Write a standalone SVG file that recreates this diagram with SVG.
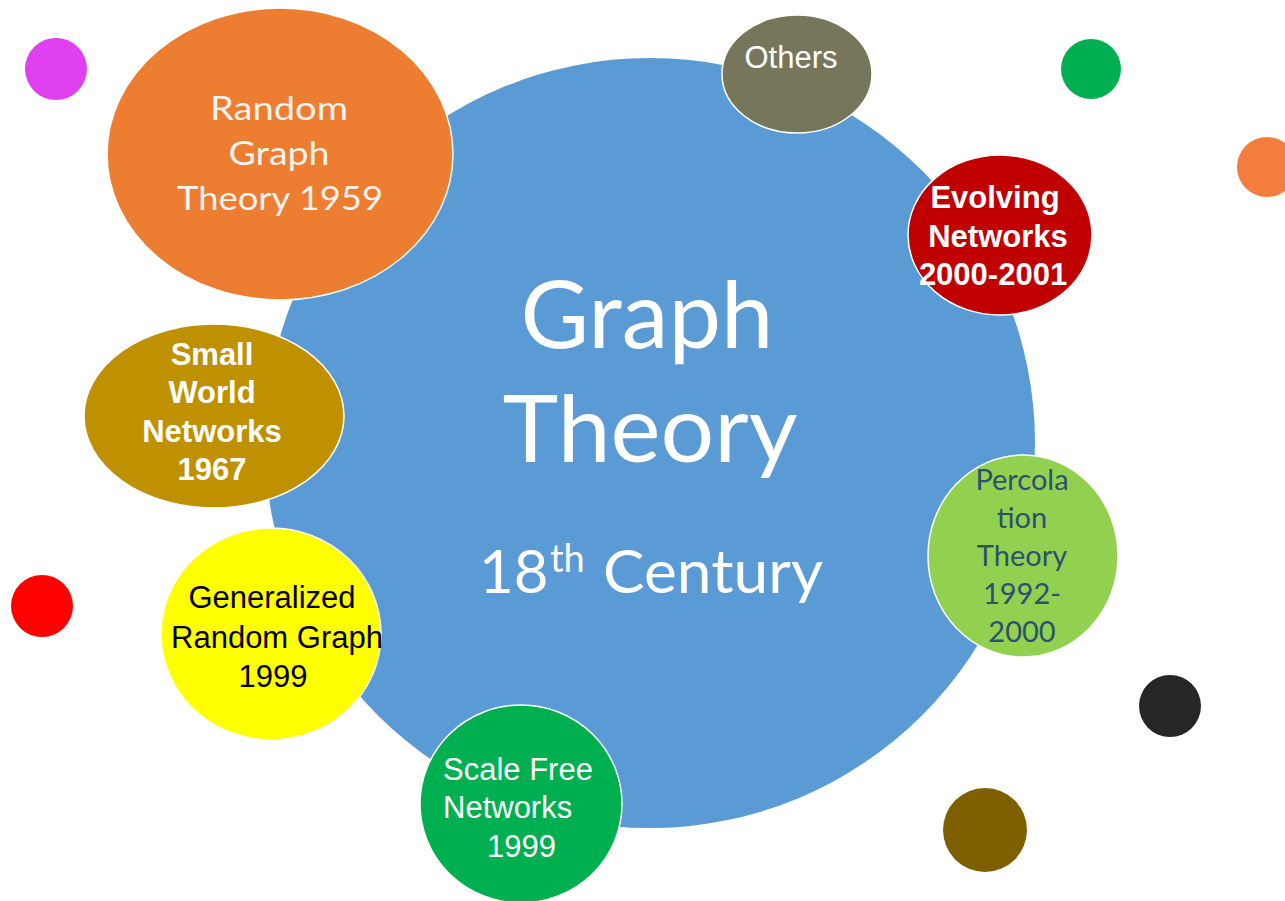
<svg xmlns="http://www.w3.org/2000/svg" width="1285" height="901" viewBox="0 0 1285 901">
<style>
.node{stroke:#ffffff;stroke-width:1.5}
.cal{font-family:Lato,"Open Sans","Liberation Sans",sans-serif;text-anchor:middle}
.ar{font-family:"Liberation Sans",Arial,sans-serif;text-anchor:middle}
.arb{font-family:"Liberation Sans",Arial,sans-serif;font-weight:bold;text-anchor:middle;fill:#ffffff;font-size:31px}
.dot{stroke:none}
</style>
<rect width="1285" height="901" fill="#ffffff"/>
<g id="connectors"></g>
<g id="graph-theory">
<circle cx="650" cy="443" r="385" fill="#5B9BD5"/>
<text class="cal" font-size="94" fill="#ffffff"><tspan x="647" y="348" textLength="253" lengthAdjust="spacingAndGlyphs">Graph</tspan><tspan x="650" y="462" textLength="295" lengthAdjust="spacingAndGlyphs">Theory</tspan></text>
<text font-family="Lato,'Open Sans','Liberation Sans',sans-serif" fill="#ffffff" font-size="60"><tspan x="479" y="593">18</tspan><tspan x="550" y="572" font-size="38">th</tspan><tspan x="603" y="593" textLength="220" lengthAdjust="spacingAndGlyphs">Century</tspan></text>
</g>
<g id="random-graph">
<ellipse class="node" cx="280" cy="154" rx="173" ry="146" fill="#ED7D31"/>
<text class="cal" font-size="33" fill="#FBF3EE"><tspan x="279" y="120" textLength="138" lengthAdjust="spacingAndGlyphs">Random</tspan><tspan x="279" y="165" textLength="101" lengthAdjust="spacingAndGlyphs">Graph</tspan><tspan x="280" y="210" textLength="206" lengthAdjust="spacingAndGlyphs">Theory 1959</tspan></text>
</g>
<g id="others">
<ellipse class="node" cx="797" cy="74" rx="75" ry="59" fill="#76765A"/>
<text class="ar" x="791" y="68" font-size="31" fill="#ffffff">Others</text>
</g>
<g id="evolving">
<ellipse class="node" cx="1000" cy="235" rx="92" ry="80" fill="#C00000"/>
<text class="arb"><tspan x="995" y="208">Evolving</tspan><tspan x="998" y="247">Networks</tspan><tspan x="993" y="285">2000-2001</tspan></text>
</g>
<g id="small-world">
<ellipse class="node" cx="214" cy="416" rx="130" ry="92" fill="#BF9000"/>
<text class="arb" font-size="30"><tspan x="212" y="365">Small</tspan><tspan x="212" y="403">World</tspan><tspan x="212" y="442">Networks</tspan><tspan x="212" y="480">1967</tspan></text>
</g>
<g id="generalized">
<ellipse class="node" cx="271" cy="634" rx="110" ry="106" fill="#FFFF00"/>
<text class="ar" font-size="31" fill="#000000"><tspan x="272" y="608">Generalized</tspan><tspan x="277" y="648">Random Graph</tspan><tspan x="273" y="687">1999</tspan></text>
</g>
<g id="percolation">
<ellipse class="node" cx="1023" cy="556" rx="95" ry="101" fill="#92D050"/>
<text class="cal" font-size="29" fill="#2C5070"><tspan x="1022" y="490">Percola</tspan><tspan x="1022" y="528">tion</tspan><tspan x="1022" y="566">Theory</tspan><tspan x="1022" y="604">1992-</tspan><tspan x="1022" y="642">2000</tspan></text>
</g>
<g id="scale-free">
<ellipse class="node" cx="521" cy="804" rx="101" ry="99" fill="#00B050"/>
<text font-family="'Liberation Sans',Arial,sans-serif" font-size="31" fill="#ffffff"><tspan x="443" y="780">Scale Free</tspan><tspan x="443" y="818">Networks</tspan><tspan x="487" y="857">1999</tspan></text>
</g>
<g id="dot-magenta"><circle class="dot" cx="56" cy="69" r="31" fill="#E040F0"/></g>
<g id="dot-green"><circle class="dot" cx="1091" cy="69" r="30" fill="#00B050"/></g>
<g id="dot-orange"><circle class="dot" cx="1267" cy="167" r="30" fill="#F47C3C"/></g>
<g id="dot-red"><circle class="dot" cx="42" cy="606" r="31" fill="#FF0000"/></g>
<g id="dot-black"><circle class="dot" cx="1170" cy="706" r="31" fill="#262626"/></g>
<g id="dot-brown"><circle class="dot" cx="985" cy="830" r="42" fill="#7F6000"/></g>
</svg>
